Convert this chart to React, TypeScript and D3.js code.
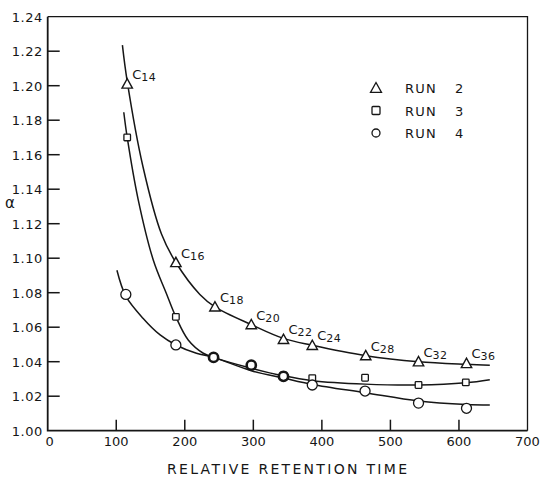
import { useEffect, useRef } from 'react';
import * as d3 from 'd3';

const run2X = [116, 187, 244, 297, 344, 386, 464, 541, 611];
const run2Y = [1.201, 1.0975, 1.0718, 1.0615, 1.053, 1.0495, 1.0435, 1.040, 1.039];
const run2Labels = ['14', '16', '18', '20', '22', '24', '28', '32', '36'];

const run3X = [116, 187, 242, 297, 344, 386, 463, 541, 610];
const run3Y = [1.170, 1.066, 1.0425, 1.038, 1.032, 1.0305, 1.0307, 1.0265, 1.028];

const run4X = [114, 187, 242, 297, 344, 386, 463, 541, 611];
const run4Y = [1.079, 1.0497, 1.0425, 1.038, 1.0315, 1.0265, 1.023, 1.016, 1.013];

// hand-drawn fitted curves
const fit2X = [109, 116, 139, 166, 187, 222, 244, 297, 344, 386, 464, 541, 611, 645];
const fit2Y = [1.2235, 1.2025, 1.153, 1.114, 1.0975, 1.079, 1.0718, 1.0615, 1.0535, 1.0495, 1.0435, 1.040, 1.0385, 1.038];
const fit3X = [111, 116, 132, 154, 173, 187, 205, 227, 242, 297, 344, 386, 463, 541, 610, 645];
const fit3Y = [1.1846, 1.170, 1.134, 1.099, 1.0797, 1.066, 1.0526, 1.0449, 1.0425, 1.0362, 1.0318, 1.029, 1.027, 1.0265, 1.0278, 1.0296];
const fit4X = [101, 114, 139, 164, 187, 217, 242, 297, 344, 386, 463, 541, 611, 645];
const fit4Y = [1.093, 1.078, 1.0652, 1.0555, 1.0497, 1.0449, 1.0425, 1.0348, 1.0305, 1.0268, 1.022, 1.0172, 1.0152, 1.0149];

const xTicks = [0, 100, 200, 300, 400, 500, 600, 700];
const yTicks = [1.00, 1.02, 1.04, 1.06, 1.08, 1.10, 1.12, 1.14, 1.16, 1.18, 1.20, 1.22, 1.24];
const legendRuns = ['RUN 2', 'RUN 3', 'RUN 4'];

const INK = '#161616';
const FONT = '"DejaVu Sans", Arial, sans-serif';

function App() {
  const svgRef = useRef<SVGSVGElement>(null);

  useEffect(() => {
    const svg = d3.select(svgRef.current);
    svg.selectAll('*').remove();

    const x = d3.scaleLinear().domain([0, 700]).range([47.7, 527.5]);
    const y = d3.scaleLinear().domain([1.0, 1.24]).range([430.7, 16.7]);
    const [x0, x1] = x.range();
    const [yb, yt] = y.range();

    svg.append('rect').attr('width', 542).attr('height', 479).attr('fill', '#fff');

    // frame
    svg.append('path')
      .attr('d', `M${x0},${yt} L${x1},${yt} L${x1},${yb}`)
      .attr('fill', 'none').attr('stroke', INK).attr('stroke-width', 1.3);
    svg.append('path')
      .attr('d', `M${x0},${yt} L${x0},${yb} L${x1},${yb}`)
      .attr('fill', 'none').attr('stroke', INK).attr('stroke-width', 1.8);

    // y ticks (inward) + labels
    yTicks.forEach(t => {
      if (t > 1.0 && t < 1.24) {
        svg.append('line').attr('x1', x0).attr('x2', x0 + 12).attr('y1', y(t)).attr('y2', y(t))
          .attr('stroke', INK).attr('stroke-width', 1.5);
      }
      svg.append('text').attr('x', 43).attr('y', y(t) + 5)
        .attr('text-anchor', 'end').attr('font-family', FONT).attr('font-size', 13)
        .attr('letter-spacing', 0.6).attr('fill', INK)
        .text(t.toFixed(2));
    });

    // x ticks (upward) + labels
    xTicks.forEach(t => {
      if (t > 0 && t < 700) {
        svg.append('line').attr('x1', x(t)).attr('x2', x(t)).attr('y1', yb).attr('y2', yb - 11)
          .attr('stroke', INK).attr('stroke-width', 1.5);
      }
      svg.append('text').attr('x', x(t) + (t === 0 ? 2 : 0)).attr('y', yb + 15)
        .attr('text-anchor', 'middle').attr('font-family', FONT).attr('font-size', 13)
        .attr('fill', INK).text(String(t));
    });

    svg.append('text').attr('x', 287).attr('y', 474)
      .attr('text-anchor', 'middle').attr('font-family', FONT).attr('font-size', 14)
      .attr('textLength', 240).attr('lengthAdjust', 'spacing').attr('fill', INK)
      .text('RELATIVE RETENTION TIME');

    svg.append('text').attr('x', 10).attr('y', 208)
      .attr('text-anchor', 'middle').attr('font-family', FONT).attr('font-size', 15)
      .attr('fill', INK).text('α');

    // fitted curves
    const line = d3.line<[number, number]>()
      .x(d => x(d[0])).y(d => y(d[1]))
      .curve(d3.curveCatmullRom.alpha(0.5));
    [[fit2X, fit2Y], [fit3X, fit3Y], [fit4X, fit4Y]].forEach(([xs, ys]) => {
      svg.append('path')
        .attr('d', line(xs.map((v, i) => [v, ys[i]] as [number, number])))
        .attr('fill', 'none').attr('stroke', INK).attr('stroke-width', 1.5);
    });

    const tri = (cx: number, cy: number, s = 5.2) =>
      `M${cx - s},${cy + s * 0.8} L${cx + s},${cy + s * 0.8} L${cx},${cy - s} Z`;

    // run 2 triangles + carbon labels
    run2X.forEach((v, i) => {
      const cx = x(v), cy = y(run2Y[i]);
      svg.append('path').attr('d', tri(cx, cy)).attr('fill', '#fff')
        .attr('stroke', INK).attr('stroke-width', 1.4);
      const lab = svg.append('text').attr('x', cx + 5).attr('y', cy - 5)
        .attr('font-family', FONT).attr('font-size', 13).attr('fill', INK);
      lab.append('tspan').text('C');
      lab.append('tspan').attr('dy', 2).attr('font-size', 11).attr('letter-spacing', 0.5).text(run2Labels[i]);
    });

    // run 3 squares
    run3X.forEach((v, i) => {
      svg.append('rect').attr('x', x(v) - 3.3).attr('y', y(run3Y[i]) - 3.3)
        .attr('width', 6.6).attr('height', 6.6).attr('rx', 0.8)
        .attr('fill', '#fff').attr('stroke', INK).attr('stroke-width', 1.3);
    });

    // run 4 circles (thicker where a run 3 point sits underneath)
    run4X.forEach((v, i) => {
      const hit = run3X.some((u, j) => Math.abs(u - v) < 2 && Math.abs(run3Y[j] - run4Y[i]) < 0.002);
      svg.append('circle').attr('cx', x(v)).attr('cy', y(run4Y[i])).attr('r', hit ? 4.6 : 5)
        .attr('fill', '#fff').attr('stroke', INK).attr('stroke-width', hit ? 2.6 : 1.3);
    });

    // legend
    legendRuns.forEach((name, i) => {
      const ly = 88 + i * 22.5;
      if (i === 0) {
        svg.append('path').attr('d', tri(376, ly, 5.5)).attr('fill', '#fff')
          .attr('stroke', INK).attr('stroke-width', 1.3);
      } else if (i === 1) {
        svg.append('rect').attr('x', 372).attr('y', ly - 4).attr('width', 8).attr('height', 8).attr('rx', 1)
          .attr('fill', '#fff').attr('stroke', INK).attr('stroke-width', 1.3);
      } else {
        svg.append('circle').attr('cx', 376).attr('cy', ly).attr('r', 4)
          .attr('fill', '#fff').attr('stroke', INK).attr('stroke-width', 1.3);
      }
      const [w, n] = name.split(' ');
      svg.append('text').attr('x', 405).attr('y', ly + 5)
        .attr('font-family', FONT).attr('font-size', 13).attr('letter-spacing', 1.2)
        .attr('fill', INK).text(w);
      svg.append('text').attr('x', 455).attr('y', ly + 5)
        .attr('font-family', FONT).attr('font-size', 13)
        .attr('fill', INK).text(n);
    });
  }, []);

  return (
    <svg ref={svgRef} width={542} height={479}
      style={{ position: 'absolute', left: 0, top: 0, display: 'block' }} />
  );
}

export default App;
